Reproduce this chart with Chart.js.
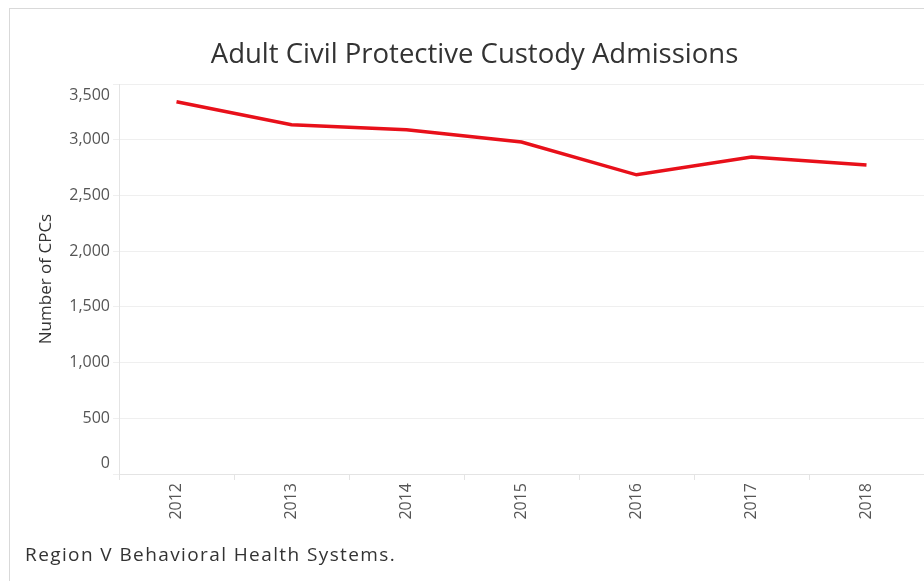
<!DOCTYPE html>
<html>
<head>
<meta charset="utf-8">
<script src="https://cdn.jsdelivr.net/npm/chart.js@4/dist/chart.umd.min.js"></script>
<style>
    html, body {
        margin: 0;
        padding: 0;
        width: 924px;
        height: 581px;
        overflow: hidden;
        background: #fff;
    }
    .frame {
        position: absolute;
        left: 9px;
        top: 8px;
        width: 2000px;
        height: 2000px;
        border: 1px solid #d9d9d9;
    }
    #chart {
        position: absolute;
        left: 25px;
        top: 0;
    }
    .footer {
        position: absolute;
        left: 25px;
        top: 541px;
        font-family: "Open Sans", sans-serif;
        font-size: 19px;
        letter-spacing: 1.4px;
        color: #333;
        white-space: nowrap;
    }
</style>
</head>
<body>
<div class="frame"></div>
<canvas id="chart" width="899" height="581"></canvas>
<div class="footer">Region V Behavioral Health Systems.</div>

<script>
    // 데이터
    var years = ['2012', '2013', '2014', '2015', '2016', '2017', '2018'];
    var admissions = [3340, 3135, 3090, 2980, 2685, 2845, 2772];
    var yTicks = [0, 500, 1000, 1500, 2000, 2500, 3000, 3500];

    var tickFont = '16px "Open Sans", sans-serif';

    // y축 라벨 (Tableau 처럼 양 끝 라벨은 안쪽으로)
    var yLabelPlugin = {
        id: 'yLabels',
        afterDraw: function(chart) {
            var scale = chart.scales.y;
            var area = chart.chartArea;
            var ctx = chart.ctx;
            ctx.save();
            ctx.font = tickFont;
            ctx.fillStyle = '#555';
            ctx.textAlign = 'right';
            ctx.textBaseline = 'middle';
            yTicks.forEach(function(v) {
                var py = scale.getPixelForValue(v);
                py = Math.min(Math.max(py, area.top + 11), area.bottom - 11);
                ctx.fillText(v.toLocaleString('en-US'), area.left - 9, py);
            });
            ctx.restore();
        }
    };

    new Chart(document.getElementById('chart'), {
        type: 'line',
        data: {
            labels: years,
            datasets: [{
                label: 'Number of CPCs',
                data: admissions,
                borderColor: '#e8101a',
                borderWidth: 3.5,
                tension: 0,
                pointRadius: 0,
                fill: false
            }]
        },
        options: {
            responsive: false,
            animation: false,
            layout: {
                padding: 0
            },
            plugins: {
                legend: { display: false },
                tooltip: { enabled: false },
                title: {
                    display: true,
                    text: 'Adult Civil Protective Custody Admissions',
                    color: '#333',
                    font: { family: '"Open Sans", sans-serif', size: 27.5, weight: 'normal' },
                    padding: { top: 39, bottom: 12 }
                }
            },
            scales: {
                x: {
                    offset: true,
                    grid: {
                        offset: true,
                        drawOnChartArea: false,
                        tickLength: 6,
                        color: '#e4e4e4'
                    },
                    border: { color: '#e4e4e4' },
                    ticks: {
                        minRotation: 90,
                        maxRotation: 90,
                        padding: 3,
                        color: '#555',
                        font: { family: '"Open Sans", sans-serif', size: 16 }
                    },
                    afterFit: function(scale) {
                        scale.height = 107;
                    }
                },
                y: {
                    min: 0,
                    max: 3500,
                    afterBuildTicks: function(scale) {
                        scale.ticks = yTicks.map(function(v) {
                            return { value: v };
                        });
                    },
                    ticks: { display: false },
                    grid: {
                        color: '#efefef',
                        tickLength: 6
                    },
                    border: { color: '#e4e4e4' },
                    title: {
                        display: true,
                        text: 'Number of CPCs',
                        color: '#333',
                        font: { family: '"Open Sans", sans-serif', size: 17 },
                        padding: { top: 11, bottom: 0 }
                    },
                    afterFit: function(scale) {
                        scale.width = 94;
                    }
                }
            }
        },
        plugins: [yLabelPlugin]
    });
</script>
</body>
</html>
